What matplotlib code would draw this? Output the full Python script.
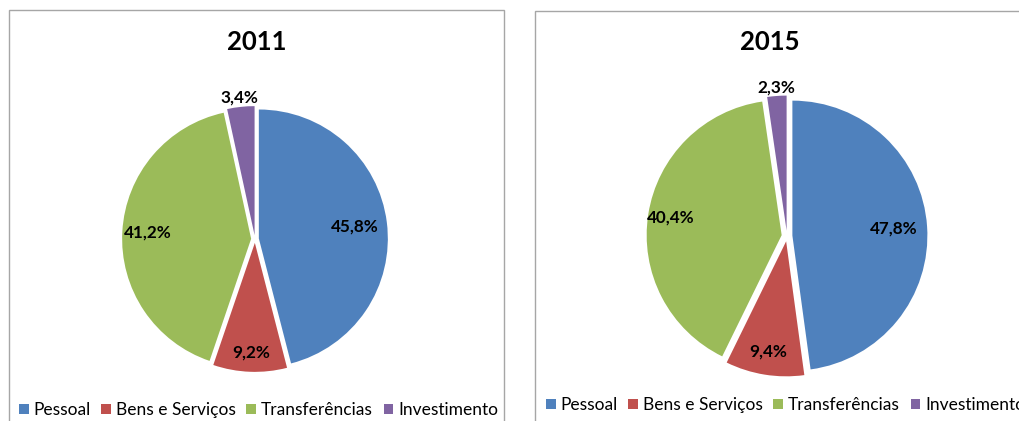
import matplotlib
matplotlib.use("Agg")
import matplotlib.pyplot as plt
import numpy as np
from matplotlib.patches import Rectangle

categories = ["Pessoal", "Bens e Serviços", "Transferências", "Investimento"]
years = ["2011", "2015"]
values_2011 = [45.8, 9.2, 41.2, 3.4]
values_2015 = [47.8, 9.4, 40.4, 2.3]
labels_2011 = ["45,8%", "9,2%", "41,2%", "3,4%"]
labels_2015 = ["47,8%", "9,4%", "40,4%", "2,3%"]

colors = ["#4F81BD", "#C0504D", "#9BBB59", "#8064A2"]

plt.rcParams['font.family'] = ['Lato', 'DejaVu Sans']

W, H = 1019, 421
fig = plt.figure(figsize=(W / 100, H / 100), dpi=100)

def px(x, y, w, h):
    # convert top-left pixel box to figure fraction
    return [x / W, 1 - (y + h) / H, w / W, h / H]

# panel borders
for (x0, y0, x1, y1) in [(9, 10, 504, 430), (535, 11, 1030, 430)]:
    fig.patches.append(Rectangle((x0 / W, 1 - y1 / H), (x1 - x0) / W, (y1 - y0) / H,
                                 transform=fig.transFigure, fill=False,
                                 edgecolor="#a6a6a6", linewidth=1.0, clip_on=False))

panels = [
    dict(vals=values_2011, labs=labels_2011, title=years[0], cx=255, cy=239, R=129,
         explode=0.03, lr=[0.78, 0.88, 0.83, 1.10], tx=257, ty=42, leg_y=410, leg_x=19),
    dict(vals=values_2015, labs=labels_2015, title=years[1], cx=787, cy=236, R=135,
         explode=0.04, lr=[0.79, 0.87, 0.87, 1.10], tx=770, ty=42, leg_y=405, leg_x=546),
]

for p in panels:
    half = 160
    ax = fig.add_axes(px(p["cx"] - half, p["cy"] - half, 2 * half, 2 * half))
    lim = half / p["R"]
    wedges, _ = ax.pie(p["vals"], colors=colors, startangle=90, counterclock=False,
                       explode=[p["explode"]] * 4,
                       wedgeprops=dict(linewidth=0))
    ax.set_xlim(-lim, lim)
    ax.set_ylim(-lim, lim)
    ax.set_aspect("equal")
    ax.axis("off")
    # labels
    total = sum(p["vals"])
    start = 90.0
    for v, lab, r in zip(p["vals"], p["labs"], p["lr"]):
        ang = start - 360 * v / total / 2
        start -= 360 * v / total
        ax.text(r * np.cos(np.radians(ang)), r * np.sin(np.radians(ang)), lab,
                ha="center", va="center", fontsize=12.3, fontweight="bold", color="black")
    fig.text(p["tx"] / W, 1 - p["ty"] / H, p["title"], ha="center", va="center",
             fontsize=18.5, fontweight="bold", color="black")
    fig.legend(wedges, categories, loc="center left",
               bbox_to_anchor=(p["leg_x"] / W, 1 - p["leg_y"] / H), ncol=4,
               frameon=False, fontsize=12.5, handlelength=0.55, handleheight=0.55,
               handletextpad=0.3, columnspacing=0.6, borderaxespad=0, borderpad=0)

fig.savefig("out.png", dpi=100)
